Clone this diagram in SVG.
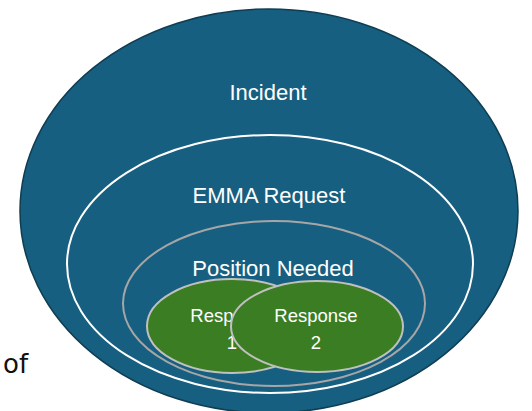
<svg xmlns="http://www.w3.org/2000/svg" width="532" height="411" viewBox="0 0 532 411">
<style>
.lbl{font-family:"Liberation Sans",Arial,sans-serif;fill:#fff;text-anchor:middle}
.big{font-size:22px}
.sm{font-size:18.5px}
.grn{fill:#3b7d23;stroke:#c0c0c0;stroke-width:2}
</style>
<rect width="532" height="411" fill="#fff"/>
<g id="incident">
<ellipse cx="269" cy="211" rx="249" ry="202" fill="#175f80" stroke="#0f3d52" stroke-width="1.5"/>
<text class="lbl big" x="268" y="100">Incident</text>
</g>
<g id="emma">
<ellipse cx="270" cy="264" rx="203" ry="129" fill="none" stroke="#ffffff" stroke-width="2"/>
<text class="lbl big" x="269" y="203">EMMA Request</text>
</g>
<g id="position">
<ellipse cx="274" cy="303.5" rx="151" ry="82.5" fill="none" stroke="#a6a6a6" stroke-width="2"/>
<text class="lbl big" x="273" y="276">Position Needed</text>
</g>
<g id="response1">
<ellipse class="grn" cx="232" cy="326" rx="85" ry="47"/>
<text class="lbl sm" x="232" y="322">Response</text>
<text class="lbl sm" x="232" y="349">1</text>
</g>
<g id="response2">
<ellipse class="grn" cx="317" cy="326.5" rx="86" ry="45.5"/>
<text class="lbl sm" x="316" y="322">Response</text>
<text class="lbl sm" x="316" y="349">2</text>
</g>
<g id="connectors"></g>
<text x="3" y="373" font-family="'DejaVu Sans',sans-serif" font-size="26" fill="#111">of</text>
</svg>
